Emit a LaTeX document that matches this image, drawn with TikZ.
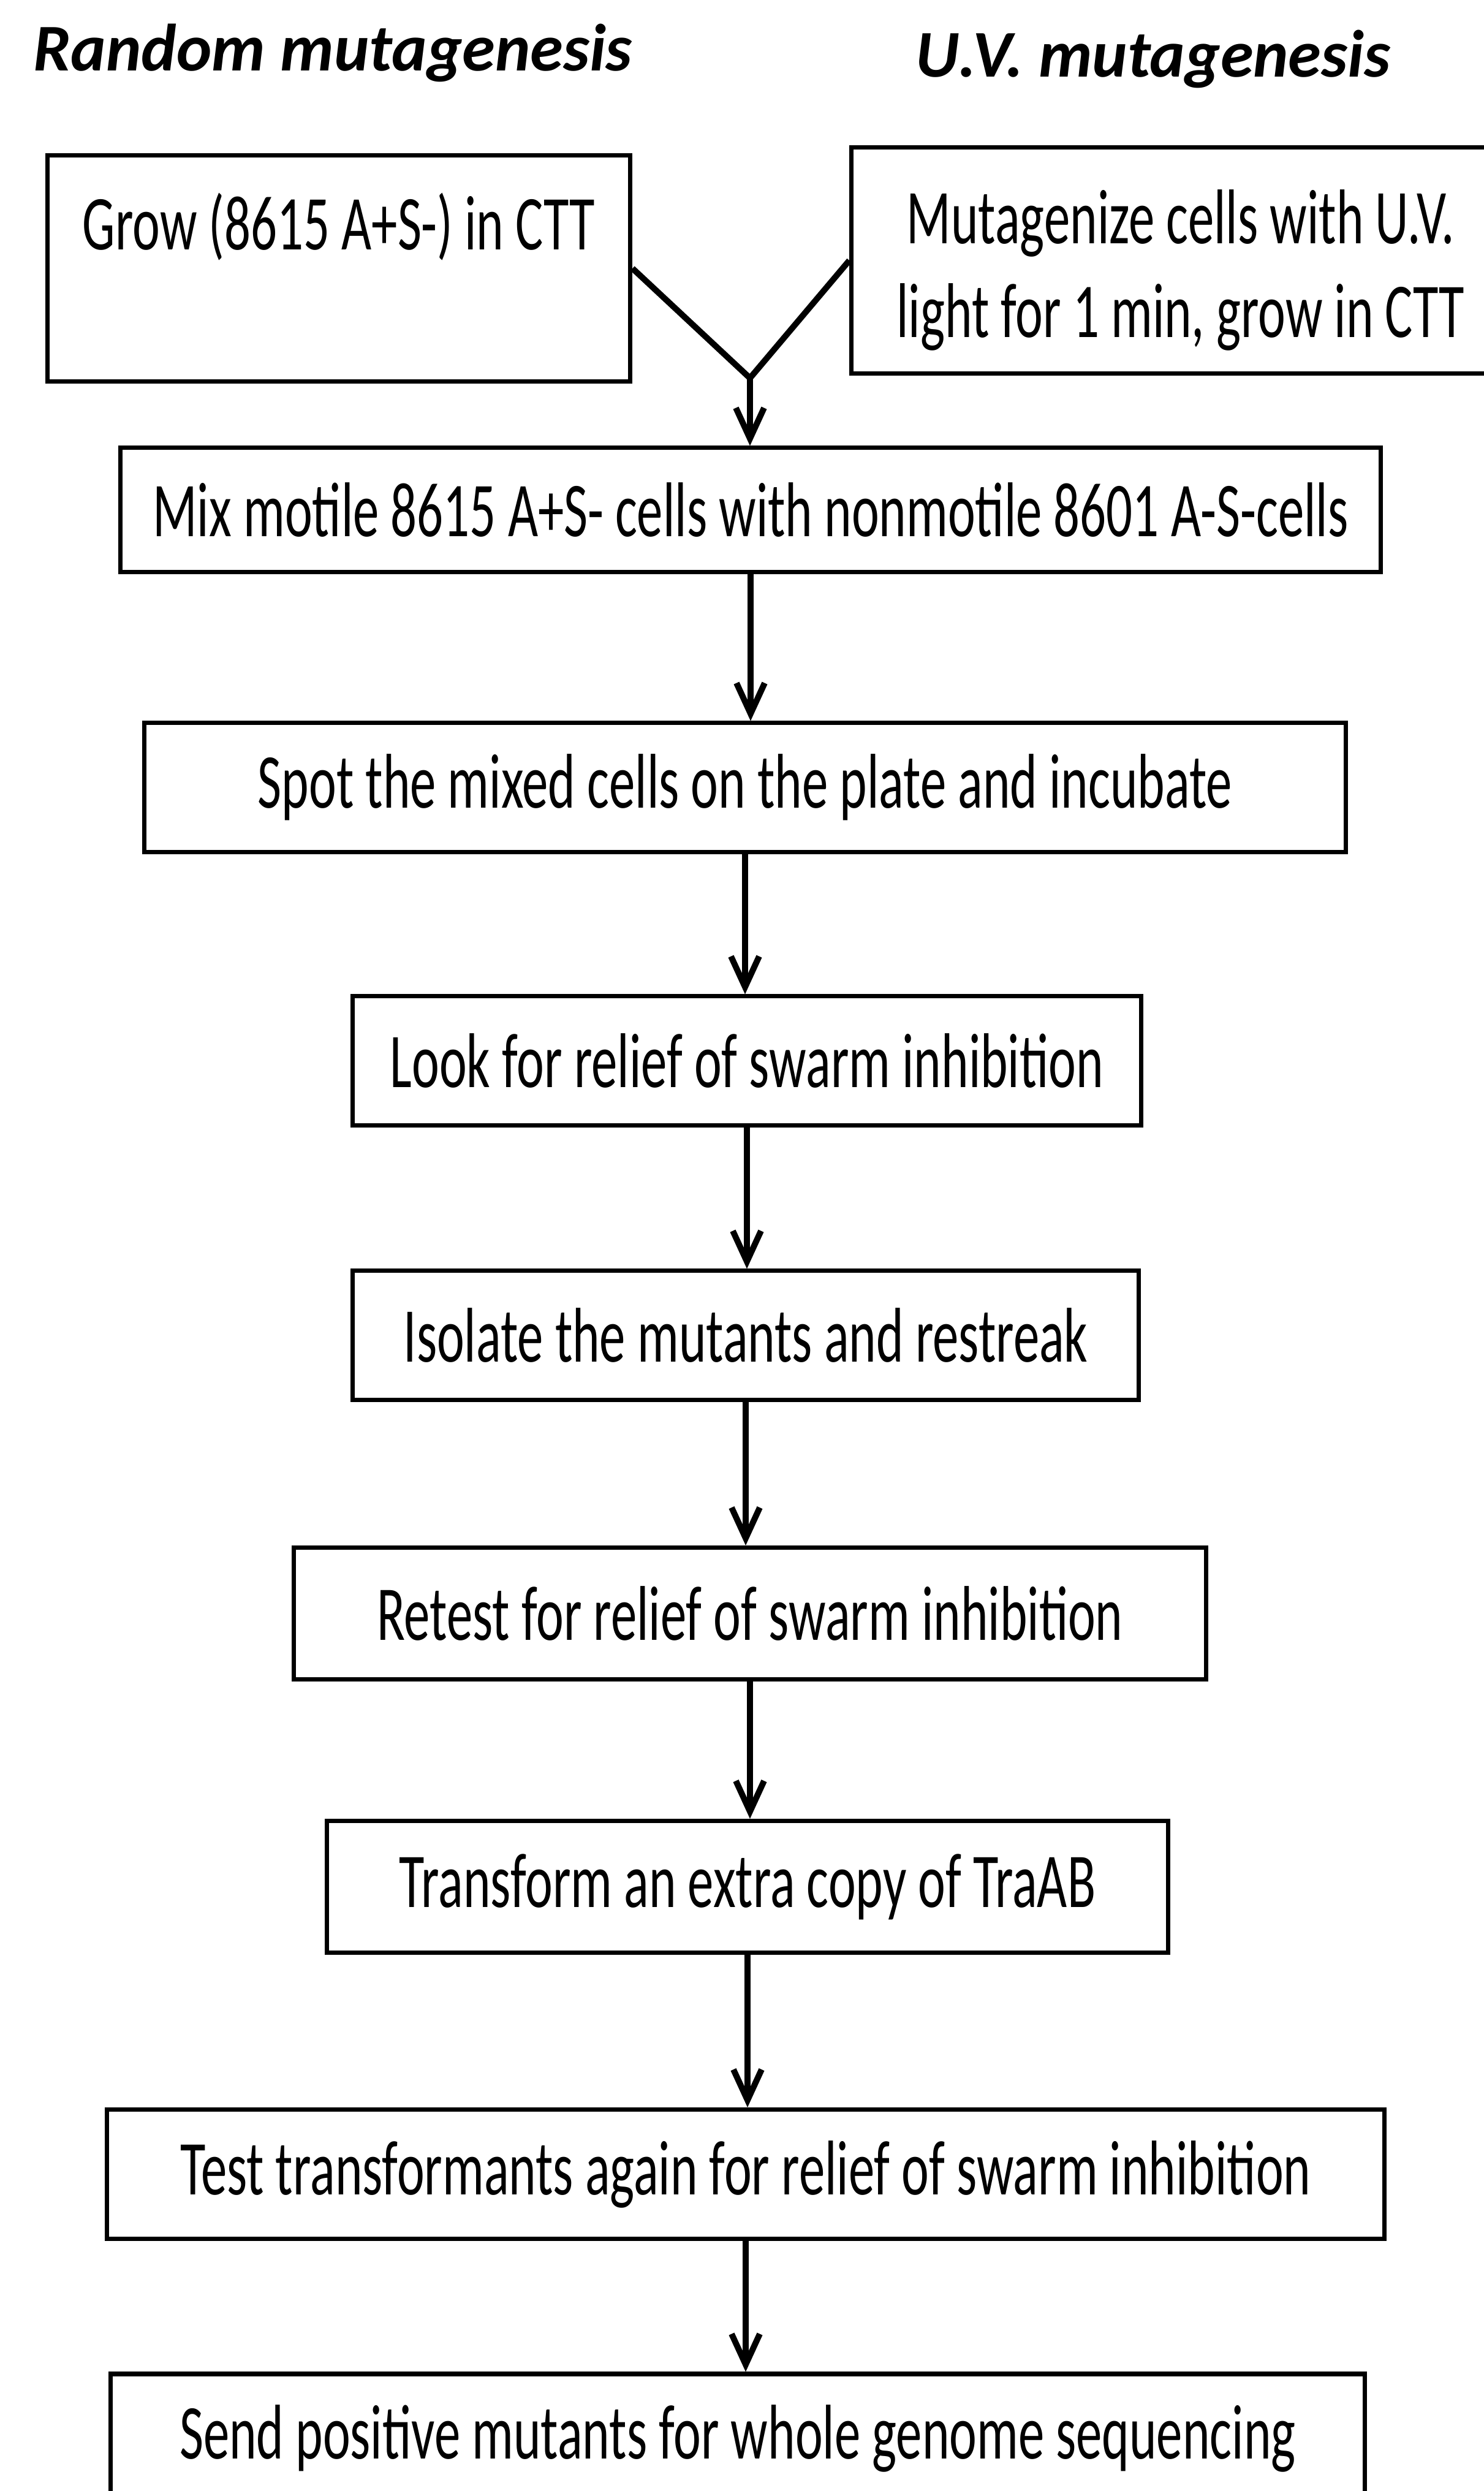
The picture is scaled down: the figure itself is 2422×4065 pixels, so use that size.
\documentclass[tikz,border=0pt]{standalone}
\usepackage{fontspec}
\setmainfont{Carlito}
\newfontfamily\stepfont[FakeStretch=0.67]{Carlito}
\usetikzlibrary{arrows.meta}

\begin{document}
\begin{tikzpicture}[x=0.01cm, y=-0.01cm,
    box/.style={draw, line width=2pt, rectangle, inner sep=0pt, align=center,
      font=\stepfont\fontsize{36}{43.5}\selectfont},
    title/.style={font=\bfseries\itshape\fontsize{31}{36}\selectfont},
    flow/.style={line width=2.8pt, -{Straight Barb[length=5mm,width=4.6mm]}}]
  \useasboundingbox (0,0) rectangle (2422,4065);
  % the two ways of mutagenesis
  \node[title] (randomtitle) at (543,86) {Random mutagenesis};
  \node[title] (uvtitle) at (1882,96) {U.V. mutagenesis};
  \node[box, minimum width=9.51cm, minimum height=3.68cm] (grow) at (553,438) {Grow (8615 A+S-) in CTT\\\mbox{}};
  \node[box, minimum width=10.74cm, minimum height=3.68cm] (uv) at (1927,425) {\rule{0pt}{1.2cm}Mutagenize cells with U.V.\\light for 1 min, grow in CTT};
  \coordinate (merge) at (1224,617);
  % the steps
  \node[box, minimum width=20.56cm, minimum height=2.02cm] (mix) at (1225,832) {Mix motile 8615 A+S- cells with nonmotile 8601 A-S-cells};
  \node[box, minimum width=19.60cm, minimum height=2.10cm] (spot) at (1216,1285) {Spot the mixed cells on the plate and incubate};
  \node[box, minimum width=12.86cm, minimum height=2.10cm] (look) at (1219,1731) {Look for relief of swarm inhibition};
  \node[box, minimum width=12.83cm, minimum height=2.10cm] (isolate) at (1217,2179) {Isolate the mutants and restreak};
  \node[box, minimum width=14.88cm, minimum height=2.15cm] (retest) at (1224,2633) {Retest for relief of swarm inhibition};
  \node[box, minimum width=13.72cm, minimum height=2.15cm] (transform) at (1220,3079) {Transform an extra copy of TraAB};
  \node[box, minimum width=20.83cm, minimum height=2.11cm] (testtr) at (1217,3548) {Test transformants again for relief of swarm inhibition};
  \node[box, minimum width=20.45cm, minimum height=2.10cm] (send) at (1204,3979) {Send positive mutants for whole genome sequencing};
  % arrows
  \draw[line width=2.8pt] (grow.east) -- (merge) -- (uv.west);
  \draw[flow] (merge) -- (merge |- mix.north);
  \draw[flow] (mix.south) -- (mix.south |- spot.north);
  \draw[flow] (spot.south) -- (spot.south |- look.north);
  \draw[flow] (look.south) -- (look.south |- isolate.north);
  \draw[flow] (isolate.south) -- (isolate.south |- retest.north);
  \draw[flow] (retest.south) -- (retest.south |- transform.north);
  \draw[flow] (transform.south) -- (transform.south |- testtr.north);
  \draw[flow] (testtr.south) -- (testtr.south |- send.north);
\end{tikzpicture}
\end{document}
